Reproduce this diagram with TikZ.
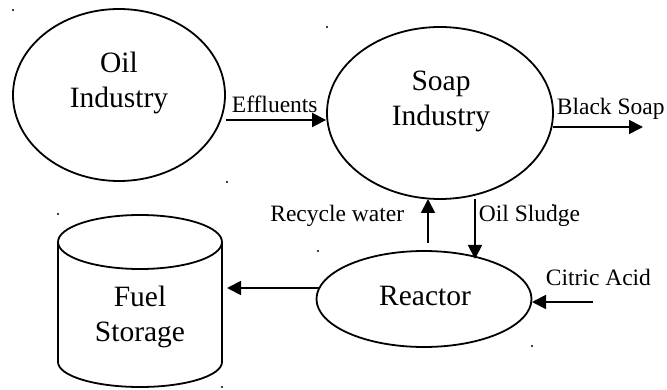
\documentclass[tikz,border=0pt]{standalone}
\usepackage{fontspec}
\setmainfont{Liberation Serif}
\usetikzlibrary{arrows.meta,shapes.geometric}
\begin{document}
\begin{tikzpicture}[x=1pt,y=-1pt,
  line width=1.8pt,
  blob/.style={draw,ellipse,inner sep=0pt},
  bigtext/.style={font=\fontsize{29.5}{35}\selectfont,align=center,inner sep=0pt},
  lbl/.style={font=\fontsize{23.5}{28}\selectfont,inner sep=0pt},
  arr/.style={-{Triangle[length=14pt,width=14pt]}},
  speck/.style={fill=black,draw=none}]
\useasboundingbox (0,0) rectangle (667,390);

% process ellipses
\node[blob,minimum width=212pt,minimum height=172pt] (oil) at (119,95) {};
\node[bigtext] (oiltxt) at (119,83) {Oil\\Industry};

\node[blob,minimum width=226pt,minimum height=172pt] (soap) at (440,113) {};
\node[bigtext] (soaptxt) at (441,101) {Soap\\Industry};

\node[blob,minimum width=215pt,minimum height=96pt] (reactor) at (424,299) {};
\node[bigtext] (reactortxt) at (425,296) {Reactor};

% fuel storage tank
\draw (58,242) -- (58,362) arc[start angle=180,end angle=0,x radius=82,y radius=25]
      -- (222,242);
\draw (140,242) ellipse[x radius=82,y radius=27];
\node[inner sep=0pt,minimum width=164pt,minimum height=150pt] (fuel) at (140,302) {};
\node[bigtext] (fueltxt) at (140,317) {Fuel\\Storage};

% flows
\coordinate (soapout) at (643,127);
\coordinate (citric) at (593,302);
\coordinate (fuelin) at (227,288);
\coordinate (recyc) at (428,243);

\draw[arr] (oil.east |- 0,120) -- (soap.west |- 0,120);
\node[lbl,anchor=base west] (effl) at (231,113) {Effluents};

\draw[arr] (553,127) -- (soapout);
\node[lbl,anchor=base west] (bsoap) at (556,115) {Black Soap};

\draw[arr] (recyc) -- (428,199);
\node[lbl,anchor=base east] (rw) at (405,222) {Recycle water};

\draw[arr] (475,199) -- (475,259);
\node[lbl,anchor=base west] (os) at (478,222) {Oil Sludge};

\draw[arr] (citric) -- (532,302);
\node[lbl,anchor=base west] (ca) at (545,286) {Citric Acid};

\draw[arr] (319,288) -- (fuelin);

% scanner specks
\foreach \p in {(13,10),(327,27),(227,182),(553,205),(58,214),(318,251),(222,387),(532,346)}
  \fill[speck] \p circle (1.1);
\end{tikzpicture}
\end{document}
